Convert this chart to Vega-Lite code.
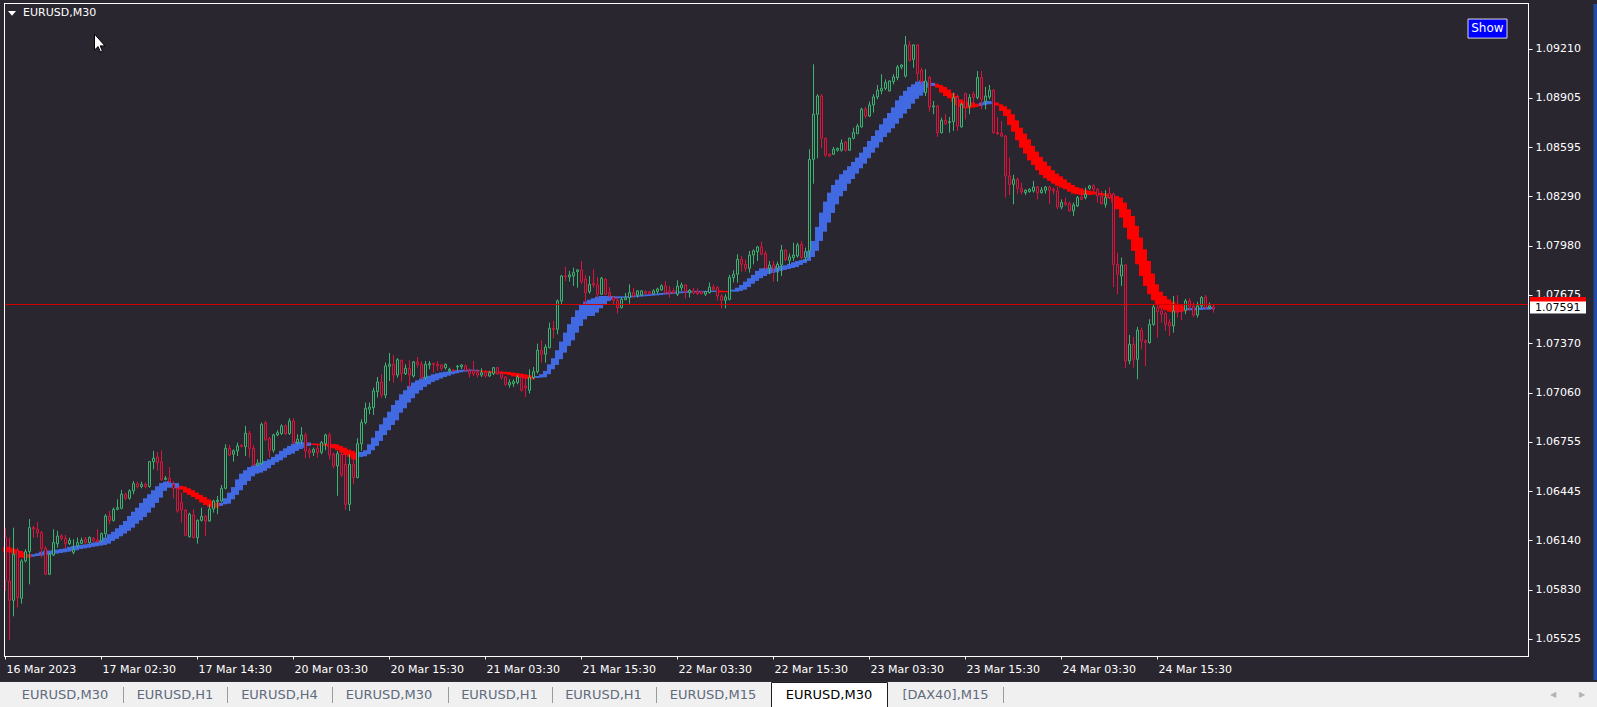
{
"$schema":"https://vega.github.io/schema/vega-lite/v6.json",
"background":"#2a2630",
"padding":{"left":0,"top":2,"right":0,"bottom":0},
"spacing":0,
"config":{"view":{"stroke":null},"font":"DejaVu Sans","scale":{"continuousPadding":0}},
"datasets":{
"bars":[
{"i":0,"o":1.0616,"h":1.06218,"l":1.05823,"c":1.05885,"t":1.06098,"b":1.06068,"d":"d"},
{"i":1,"o":1.05885,"h":1.06156,"l":1.05514,"c":1.05764,"t":1.06098,"b":1.06064,"d":"d"},
{"i":2,"o":1.05764,"h":1.06218,"l":1.05664,"c":1.06052,"t":1.06089,"b":1.06056,"d":"d"},
{"i":3,"o":1.06073,"h":1.06093,"l":1.05718,"c":1.05781,"t":1.06081,"b":1.06048,"d":"d"},
{"i":4,"o":1.05777,"h":1.06021,"l":1.05743,"c":1.0601,"t":1.06073,"b":1.06031,"d":"d"},
{"i":5,"o":1.0601,"h":1.06083,"l":1.06,"c":1.06068,"t":1.06064,"b":1.06027,"d":"d"},
{"i":6,"o":1.06068,"h":1.06272,"l":1.05864,"c":1.06218,"t":1.06052,"b":1.06031,"d":"d"},
{"i":7,"o":1.06218,"h":1.06229,"l":1.06156,"c":1.0621,"t":1.06052,"b":1.06037,"d":"u"},
{"i":8,"o":1.06208,"h":1.06254,"l":1.06156,"c":1.06187,"t":1.06058,"b":1.06041,"d":"u"},
{"i":9,"o":1.06187,"h":1.06198,"l":1.06031,"c":1.06089,"t":1.06068,"b":1.06043,"d":"u"},
{"i":10,"o":1.06089,"h":1.06104,"l":1.05922,"c":1.05927,"t":1.06073,"b":1.06045,"d":"u"},
{"i":11,"o":1.05927,"h":1.06062,"l":1.05922,"c":1.06052,"t":1.06075,"b":1.06048,"d":"u"},
{"i":12,"o":1.06048,"h":1.06208,"l":1.06041,"c":1.06125,"t":1.06077,"b":1.06052,"d":"u"},
{"i":13,"o":1.06118,"h":1.06198,"l":1.06093,"c":1.06166,"t":1.06081,"b":1.06056,"d":"u"},
{"i":14,"o":1.06166,"h":1.06177,"l":1.06139,"c":1.0615,"t":1.06085,"b":1.0606,"d":"u"},
{"i":15,"o":1.0615,"h":1.06173,"l":1.06089,"c":1.06118,"t":1.06089,"b":1.06064,"d":"u"},
{"i":16,"o":1.06118,"h":1.06156,"l":1.0611,"c":1.06139,"t":1.06098,"b":1.06068,"d":"u"},
{"i":17,"o":1.06064,"h":1.06145,"l":1.06052,"c":1.06081,"t":1.06104,"b":1.06073,"d":"u"},
{"i":18,"o":1.06104,"h":1.06156,"l":1.06093,"c":1.06125,"t":1.06106,"b":1.06077,"d":"u"},
{"i":19,"o":1.0612,"h":1.06156,"l":1.06114,"c":1.06139,"t":1.0611,"b":1.06085,"d":"u"},
{"i":20,"o":1.06145,"h":1.0616,"l":1.06114,"c":1.06125,"t":1.06114,"b":1.06089,"d":"u"},
{"i":21,"o":1.06125,"h":1.06164,"l":1.06118,"c":1.06156,"t":1.06118,"b":1.06093,"d":"u"},
{"i":22,"o":1.06152,"h":1.0616,"l":1.06125,"c":1.06135,"t":1.06125,"b":1.06098,"d":"u"},
{"i":23,"o":1.06141,"h":1.06208,"l":1.06125,"c":1.06131,"t":1.06131,"b":1.06102,"d":"u"},
{"i":24,"o":1.06135,"h":1.06187,"l":1.06131,"c":1.06181,"t":1.06139,"b":1.06106,"d":"u"},
{"i":25,"o":1.06181,"h":1.06302,"l":1.06156,"c":1.06291,"t":1.06156,"b":1.0611,"d":"u"},
{"i":26,"o":1.06289,"h":1.06323,"l":1.06239,"c":1.06264,"t":1.06177,"b":1.06118,"d":"u"},
{"i":27,"o":1.06264,"h":1.06343,"l":1.06256,"c":1.06333,"t":1.06193,"b":1.06135,"d":"u"},
{"i":28,"o":1.06333,"h":1.06395,"l":1.06327,"c":1.06343,"t":1.06214,"b":1.06148,"d":"u"},
{"i":29,"o":1.06339,"h":1.06454,"l":1.06333,"c":1.06427,"t":1.06235,"b":1.06164,"d":"u"},
{"i":30,"o":1.06427,"h":1.06437,"l":1.06389,"c":1.06402,"t":1.0626,"b":1.06181,"d":"u"},
{"i":31,"o":1.06402,"h":1.06458,"l":1.06393,"c":1.06448,"t":1.06291,"b":1.06198,"d":"u"},
{"i":32,"o":1.06448,"h":1.0651,"l":1.06427,"c":1.06493,"t":1.06318,"b":1.06218,"d":"u"},
{"i":33,"o":1.06493,"h":1.06506,"l":1.06464,"c":1.06475,"t":1.06343,"b":1.06243,"d":"u"},
{"i":34,"o":1.06475,"h":1.06506,"l":1.06464,"c":1.06489,"t":1.06373,"b":1.06264,"d":"u"},
{"i":35,"o":1.06489,"h":1.065,"l":1.06464,"c":1.06475,"t":1.06402,"b":1.06285,"d":"u"},
{"i":36,"o":1.06475,"h":1.06635,"l":1.06468,"c":1.06631,"t":1.06427,"b":1.06312,"d":"u"},
{"i":37,"o":1.06631,"h":1.06698,"l":1.06583,"c":1.06652,"t":1.06452,"b":1.06343,"d":"u"},
{"i":38,"o":1.0666,"h":1.06691,"l":1.06573,"c":1.06625,"t":1.06477,"b":1.06373,"d":"u"},
{"i":39,"o":1.06629,"h":1.06702,"l":1.0651,"c":1.0652,"t":1.06497,"b":1.06406,"d":"u"},
{"i":40,"o":1.0652,"h":1.06541,"l":1.06514,"c":1.06527,"t":1.06506,"b":1.06448,"d":"u"},
{"i":41,"o":1.06527,"h":1.06597,"l":1.06497,"c":1.06506,"t":1.0651,"b":1.06468,"d":"u"},
{"i":42,"o":1.06489,"h":1.0651,"l":1.06402,"c":1.06464,"t":1.06497,"b":1.06468,"d":"u"},
{"i":43,"o":1.06464,"h":1.06468,"l":1.06312,"c":1.06323,"t":1.06497,"b":1.06464,"d":"u"},
{"i":44,"o":1.06375,"h":1.06437,"l":1.0625,"c":1.06329,"t":1.06479,"b":1.06456,"d":"d"},
{"i":45,"o":1.06327,"h":1.06333,"l":1.06166,"c":1.0617,"t":1.06475,"b":1.06437,"d":"d"},
{"i":46,"o":1.06162,"h":1.06312,"l":1.06156,"c":1.06302,"t":1.06464,"b":1.06423,"d":"d"},
{"i":47,"o":1.06298,"h":1.06333,"l":1.06152,"c":1.06156,"t":1.06452,"b":1.0641,"d":"d"},
{"i":48,"o":1.06156,"h":1.0627,"l":1.06118,"c":1.06264,"t":1.06437,"b":1.06395,"d":"d"},
{"i":49,"o":1.06264,"h":1.06343,"l":1.06256,"c":1.06289,"t":1.06423,"b":1.06375,"d":"d"},
{"i":50,"o":1.06289,"h":1.06298,"l":1.06166,"c":1.0626,"t":1.0641,"b":1.0636,"d":"d"},
{"i":51,"o":1.0626,"h":1.06364,"l":1.06256,"c":1.06335,"t":1.06395,"b":1.06347,"d":"d"},
{"i":52,"o":1.06335,"h":1.06393,"l":1.06312,"c":1.06385,"t":1.06385,"b":1.06343,"d":"d"},
{"i":53,"o":1.06381,"h":1.06416,"l":1.06302,"c":1.06389,"t":1.06375,"b":1.06343,"d":"d"},
{"i":54,"o":1.06385,"h":1.06485,"l":1.06375,"c":1.06464,"t":1.06373,"b":1.06354,"d":"u"},
{"i":55,"o":1.06464,"h":1.06739,"l":1.06458,"c":1.06714,"t":1.06402,"b":1.06364,"d":"u"},
{"i":56,"o":1.06714,"h":1.06735,"l":1.06664,"c":1.06673,"t":1.06437,"b":1.06368,"d":"u"},
{"i":57,"o":1.06677,"h":1.06708,"l":1.06631,"c":1.06698,"t":1.06472,"b":1.06395,"d":"u"},
{"i":58,"o":1.06698,"h":1.0675,"l":1.06666,"c":1.06729,"t":1.0652,"b":1.06423,"d":"u"},
{"i":59,"o":1.06733,"h":1.06739,"l":1.06718,"c":1.06727,"t":1.06556,"b":1.06452,"d":"u"},
{"i":60,"o":1.06725,"h":1.06854,"l":1.06666,"c":1.06808,"t":1.06577,"b":1.06485,"d":"u"},
{"i":61,"o":1.06808,"h":1.06823,"l":1.06656,"c":1.06714,"t":1.06597,"b":1.0651,"d":"u"},
{"i":62,"o":1.06714,"h":1.06735,"l":1.06604,"c":1.0661,"t":1.06606,"b":1.06539,"d":"u"},
{"i":63,"o":1.0661,"h":1.06645,"l":1.06602,"c":1.06622,"t":1.06614,"b":1.06556,"d":"u"},
{"i":64,"o":1.06618,"h":1.06875,"l":1.0661,"c":1.06864,"t":1.06625,"b":1.06562,"d":"u"},
{"i":65,"o":1.06873,"h":1.06885,"l":1.0676,"c":1.06768,"t":1.06635,"b":1.06573,"d":"u"},
{"i":66,"o":1.06775,"h":1.06785,"l":1.06656,"c":1.06702,"t":1.06645,"b":1.06589,"d":"u"},
{"i":67,"o":1.06702,"h":1.06806,"l":1.06687,"c":1.06798,"t":1.0666,"b":1.0661,"d":"u"},
{"i":68,"o":1.06798,"h":1.06827,"l":1.06789,"c":1.06812,"t":1.06677,"b":1.06627,"d":"u"},
{"i":69,"o":1.06806,"h":1.06864,"l":1.06798,"c":1.06854,"t":1.06698,"b":1.06639,"d":"u"},
{"i":70,"o":1.06854,"h":1.06864,"l":1.06798,"c":1.06806,"t":1.06714,"b":1.06656,"d":"u"},
{"i":71,"o":1.06806,"h":1.06902,"l":1.06798,"c":1.06885,"t":1.06729,"b":1.06673,"d":"u"},
{"i":72,"o":1.06885,"h":1.06902,"l":1.06743,"c":1.0675,"t":1.06743,"b":1.06681,"d":"u"},
{"i":73,"o":1.0675,"h":1.06802,"l":1.06739,"c":1.06771,"t":1.06756,"b":1.06698,"d":"u"},
{"i":74,"o":1.06764,"h":1.06847,"l":1.06739,"c":1.06797,"t":1.06756,"b":1.0671,"d":"u"},
{"i":75,"o":1.06797,"h":1.06812,"l":1.06652,"c":1.06698,"t":1.06752,"b":1.06718,"d":"u"},
{"i":76,"o":1.06702,"h":1.06718,"l":1.06652,"c":1.06685,"t":1.0675,"b":1.06729,"d":"u"},
{"i":77,"o":1.06689,"h":1.06718,"l":1.06666,"c":1.06706,"t":1.06745,"b":1.06735,"d":"d"},
{"i":78,"o":1.06714,"h":1.06739,"l":1.06656,"c":1.06689,"t":1.06743,"b":1.06733,"d":"d"},
{"i":79,"o":1.06689,"h":1.0676,"l":1.06677,"c":1.0675,"t":1.06743,"b":1.06731,"d":"d"},
{"i":80,"o":1.06743,"h":1.06806,"l":1.06702,"c":1.06797,"t":1.06743,"b":1.06729,"d":"d"},
{"i":81,"o":1.06797,"h":1.06812,"l":1.06645,"c":1.06672,"t":1.06743,"b":1.06723,"d":"d"},
{"i":82,"o":1.06677,"h":1.06687,"l":1.06589,"c":1.06604,"t":1.06741,"b":1.06714,"d":"d"},
{"i":83,"o":1.06604,"h":1.06698,"l":1.06417,"c":1.06681,"t":1.06739,"b":1.06702,"d":"d"},
{"i":84,"o":1.06677,"h":1.06698,"l":1.06535,"c":1.06548,"t":1.06729,"b":1.06687,"d":"d"},
{"i":85,"o":1.06614,"h":1.06677,"l":1.06329,"c":1.06364,"t":1.06718,"b":1.06672,"d":"d"},
{"i":86,"o":1.06364,"h":1.06677,"l":1.06322,"c":1.06614,"t":1.06706,"b":1.0666,"d":"d"},
{"i":87,"o":1.06614,"h":1.06677,"l":1.0649,"c":1.06531,"t":1.06698,"b":1.06645,"d":"d"},
{"i":88,"o":1.06531,"h":1.06777,"l":1.06527,"c":1.06743,"t":1.06687,"b":1.06639,"d":"d"},
{"i":89,"o":1.06743,"h":1.06895,"l":1.06698,"c":1.06875,"t":1.06691,"b":1.0666,"d":"u"},
{"i":90,"o":1.06875,"h":1.07,"l":1.06864,"c":1.06964,"t":1.06702,"b":1.06664,"d":"u"},
{"i":91,"o":1.06958,"h":1.07,"l":1.06927,"c":1.06972,"t":1.06739,"b":1.06677,"d":"u"},
{"i":92,"o":1.06968,"h":1.07093,"l":1.06922,"c":1.07073,"t":1.06781,"b":1.06702,"d":"u"},
{"i":93,"o":1.07068,"h":1.0716,"l":1.07031,"c":1.07129,"t":1.06823,"b":1.06729,"d":"u"},
{"i":94,"o":1.07129,"h":1.07177,"l":1.07031,"c":1.07047,"t":1.06864,"b":1.0676,"d":"u"},
{"i":95,"o":1.07047,"h":1.0725,"l":1.07027,"c":1.07229,"t":1.06906,"b":1.06797,"d":"u"},
{"i":96,"o":1.07227,"h":1.0731,"l":1.07135,"c":1.07239,"t":1.06943,"b":1.06827,"d":"u"},
{"i":97,"o":1.07239,"h":1.07298,"l":1.07125,"c":1.07172,"t":1.06985,"b":1.0686,"d":"u"},
{"i":98,"o":1.07172,"h":1.07277,"l":1.07156,"c":1.07268,"t":1.07014,"b":1.06889,"d":"u"},
{"i":99,"o":1.07264,"h":1.07268,"l":1.07131,"c":1.07181,"t":1.07052,"b":1.06937,"d":"u"},
{"i":100,"o":1.07181,"h":1.07239,"l":1.07172,"c":1.07214,"t":1.07077,"b":1.06964,"d":"u"},
{"i":101,"o":1.07214,"h":1.07264,"l":1.07093,"c":1.07172,"t":1.07104,"b":1.07,"d":"u"},
{"i":102,"o":1.07166,"h":1.0726,"l":1.07156,"c":1.07254,"t":1.07125,"b":1.07027,"d":"u"},
{"i":103,"o":1.07254,"h":1.07285,"l":1.07218,"c":1.07239,"t":1.07139,"b":1.07056,"d":"u"},
{"i":104,"o":1.07239,"h":1.0726,"l":1.07145,"c":1.07156,"t":1.0715,"b":1.07077,"d":"u"},
{"i":105,"o":1.07156,"h":1.0726,"l":1.07145,"c":1.07239,"t":1.0716,"b":1.07098,"d":"u"},
{"i":106,"o":1.07235,"h":1.0726,"l":1.07208,"c":1.07243,"t":1.07168,"b":1.07114,"d":"u"},
{"i":107,"o":1.07243,"h":1.0725,"l":1.07187,"c":1.07239,"t":1.07177,"b":1.07129,"d":"u"},
{"i":108,"o":1.07239,"h":1.0726,"l":1.07198,"c":1.07229,"t":1.07183,"b":1.07139,"d":"u"},
{"i":109,"o":1.07235,"h":1.07239,"l":1.07198,"c":1.07214,"t":1.07189,"b":1.0715,"d":"u"},
{"i":110,"o":1.07218,"h":1.07243,"l":1.07206,"c":1.07239,"t":1.07193,"b":1.0716,"d":"u"},
{"i":111,"o":1.07198,"h":1.07218,"l":1.07187,"c":1.07208,"t":1.07195,"b":1.07168,"d":"u"},
{"i":112,"o":1.07204,"h":1.0721,"l":1.07193,"c":1.07198,"t":1.07198,"b":1.07177,"d":"u"},
{"i":113,"o":1.07223,"h":1.07235,"l":1.07198,"c":1.07227,"t":1.07202,"b":1.07183,"d":"u"},
{"i":114,"o":1.07223,"h":1.07239,"l":1.07208,"c":1.07235,"t":1.07204,"b":1.07189,"d":"u"},
{"i":115,"o":1.07229,"h":1.07239,"l":1.07198,"c":1.07202,"t":1.07206,"b":1.07193,"d":"u"},
{"i":116,"o":1.07198,"h":1.07214,"l":1.07156,"c":1.07181,"t":1.07206,"b":1.07195,"d":"u"},
{"i":117,"o":1.07198,"h":1.0726,"l":1.07166,"c":1.07181,"t":1.07206,"b":1.07198,"d":"u"},
{"i":118,"o":1.07187,"h":1.07208,"l":1.07156,"c":1.07172,"t":1.07204,"b":1.07195,"d":"u"},
{"i":119,"o":1.07172,"h":1.07214,"l":1.0716,"c":1.07187,"t":1.07202,"b":1.07193,"d":"d"},
{"i":120,"o":1.07187,"h":1.07202,"l":1.07156,"c":1.07166,"t":1.07198,"b":1.07189,"d":"d"},
{"i":121,"o":1.07166,"h":1.07198,"l":1.0716,"c":1.07187,"t":1.07198,"b":1.07187,"d":"d"},
{"i":122,"o":1.07181,"h":1.07223,"l":1.07172,"c":1.07218,"t":1.07195,"b":1.07185,"d":"d"},
{"i":123,"o":1.07218,"h":1.07223,"l":1.07172,"c":1.07181,"t":1.07195,"b":1.07183,"d":"d"},
{"i":124,"o":1.07181,"h":1.07198,"l":1.07145,"c":1.07156,"t":1.07193,"b":1.07181,"d":"d"},
{"i":125,"o":1.0716,"h":1.07166,"l":1.07104,"c":1.07114,"t":1.07193,"b":1.07177,"d":"d"},
{"i":126,"o":1.0711,"h":1.07145,"l":1.07093,"c":1.07125,"t":1.07191,"b":1.07172,"d":"d"},
{"i":127,"o":1.07118,"h":1.07145,"l":1.07098,"c":1.07131,"t":1.07187,"b":1.07164,"d":"d"},
{"i":128,"o":1.07125,"h":1.07172,"l":1.07114,"c":1.0716,"t":1.07185,"b":1.0716,"d":"d"},
{"i":129,"o":1.0716,"h":1.07172,"l":1.07068,"c":1.07077,"t":1.07181,"b":1.07154,"d":"d"},
{"i":130,"o":1.07104,"h":1.0716,"l":1.07035,"c":1.07093,"t":1.07177,"b":1.0715,"d":"d"},
{"i":131,"o":1.07077,"h":1.07208,"l":1.07056,"c":1.07156,"t":1.07172,"b":1.07145,"d":"d"},
{"i":132,"o":1.07156,"h":1.07223,"l":1.07145,"c":1.07193,"t":1.07166,"b":1.07145,"d":"d"},
{"i":133,"o":1.07193,"h":1.07368,"l":1.07181,"c":1.07327,"t":1.07166,"b":1.07154,"d":"u"},
{"i":134,"o":1.07327,"h":1.07389,"l":1.0725,"c":1.07302,"t":1.07177,"b":1.07156,"d":"u"},
{"i":135,"o":1.07302,"h":1.07364,"l":1.0725,"c":1.07347,"t":1.07198,"b":1.07158,"d":"u"},
{"i":136,"o":1.07343,"h":1.075,"l":1.07339,"c":1.07464,"t":1.07239,"b":1.07177,"d":"u"},
{"i":137,"o":1.07464,"h":1.0751,"l":1.07402,"c":1.07458,"t":1.07277,"b":1.07208,"d":"u"},
{"i":138,"o":1.07458,"h":1.07645,"l":1.07427,"c":1.07635,"t":1.07327,"b":1.07235,"d":"u"},
{"i":139,"o":1.07635,"h":1.07798,"l":1.07614,"c":1.07791,"t":1.07381,"b":1.07271,"d":"u"},
{"i":140,"o":1.07791,"h":1.07848,"l":1.0776,"c":1.07785,"t":1.07437,"b":1.07312,"d":"u"},
{"i":141,"o":1.07785,"h":1.07823,"l":1.07756,"c":1.07798,"t":1.0749,"b":1.07354,"d":"u"},
{"i":142,"o":1.07791,"h":1.07843,"l":1.07729,"c":1.07812,"t":1.07535,"b":1.07389,"d":"u"},
{"i":143,"o":1.07818,"h":1.07833,"l":1.07718,"c":1.07829,"t":1.07577,"b":1.07437,"d":"u"},
{"i":144,"o":1.07829,"h":1.07885,"l":1.07743,"c":1.07756,"t":1.0761,"b":1.07479,"d":"u"},
{"i":145,"o":1.07771,"h":1.07798,"l":1.07614,"c":1.07687,"t":1.07631,"b":1.0752,"d":"u"},
{"i":146,"o":1.07693,"h":1.07791,"l":1.07681,"c":1.07739,"t":1.07643,"b":1.07541,"d":"u"},
{"i":147,"o":1.07745,"h":1.07833,"l":1.07718,"c":1.07735,"t":1.07652,"b":1.07541,"d":"u"},
{"i":148,"o":1.07735,"h":1.07785,"l":1.07656,"c":1.07677,"t":1.07662,"b":1.07562,"d":"u"},
{"i":149,"o":1.07677,"h":1.07785,"l":1.07672,"c":1.07777,"t":1.07666,"b":1.07589,"d":"u"},
{"i":150,"o":1.0777,"h":1.07777,"l":1.07672,"c":1.07677,"t":1.07666,"b":1.07614,"d":"u"},
{"i":151,"o":1.07687,"h":1.07722,"l":1.07656,"c":1.07666,"t":1.07666,"b":1.07635,"d":"u"},
{"i":152,"o":1.07656,"h":1.07666,"l":1.07614,"c":1.07639,"t":1.07666,"b":1.07643,"d":"u"},
{"i":153,"o":1.07639,"h":1.07656,"l":1.07556,"c":1.07593,"t":1.07664,"b":1.0765,"d":"u"},
{"i":154,"o":1.07593,"h":1.07656,"l":1.07589,"c":1.07645,"t":1.07664,"b":1.07652,"d":"u"},
{"i":155,"o":1.07643,"h":1.07685,"l":1.07639,"c":1.07656,"t":1.07664,"b":1.07654,"d":"u"},
{"i":156,"o":1.07656,"h":1.07739,"l":1.07618,"c":1.07687,"t":1.07666,"b":1.07656,"d":"u"},
{"i":157,"o":1.07687,"h":1.07718,"l":1.07656,"c":1.07666,"t":1.07668,"b":1.07658,"d":"u"},
{"i":158,"o":1.07672,"h":1.07702,"l":1.07656,"c":1.07698,"t":1.0767,"b":1.0766,"d":"u"},
{"i":159,"o":1.07672,"h":1.07702,"l":1.07666,"c":1.07698,"t":1.07672,"b":1.07662,"d":"u"},
{"i":160,"o":1.07693,"h":1.07702,"l":1.07677,"c":1.07681,"t":1.07675,"b":1.07664,"d":"u"},
{"i":161,"o":1.07691,"h":1.07698,"l":1.07677,"c":1.07681,"t":1.07677,"b":1.07666,"d":"u"},
{"i":162,"o":1.07681,"h":1.07708,"l":1.07677,"c":1.07698,"t":1.07679,"b":1.07668,"d":"u"},
{"i":163,"o":1.07693,"h":1.07718,"l":1.07677,"c":1.0771,"t":1.07681,"b":1.0767,"d":"u"},
{"i":164,"o":1.07704,"h":1.07739,"l":1.07698,"c":1.07729,"t":1.07685,"b":1.07672,"d":"u"},
{"i":165,"o":1.07729,"h":1.0776,"l":1.07677,"c":1.07687,"t":1.07687,"b":1.07675,"d":"u"},
{"i":166,"o":1.07698,"h":1.07729,"l":1.07656,"c":1.07685,"t":1.07689,"b":1.07677,"d":"u"},
{"i":167,"o":1.07698,"h":1.07714,"l":1.07681,"c":1.07687,"t":1.07691,"b":1.07679,"d":"u"},
{"i":168,"o":1.07677,"h":1.07764,"l":1.07666,"c":1.07727,"t":1.07693,"b":1.07681,"d":"u"},
{"i":169,"o":1.07718,"h":1.0775,"l":1.07698,"c":1.07735,"t":1.07695,"b":1.07683,"d":"u"},
{"i":170,"o":1.07735,"h":1.07739,"l":1.0765,"c":1.07693,"t":1.07695,"b":1.07685,"d":"u"},
{"i":171,"o":1.07687,"h":1.07708,"l":1.07656,"c":1.07702,"t":1.07698,"b":1.07687,"d":"u"},
{"i":172,"o":1.07698,"h":1.07718,"l":1.07677,"c":1.07685,"t":1.07698,"b":1.07687,"d":"u"},
{"i":173,"o":1.07693,"h":1.07714,"l":1.07672,"c":1.07681,"t":1.07698,"b":1.07689,"d":"u"},
{"i":174,"o":1.07693,"h":1.07698,"l":1.07677,"c":1.07681,"t":1.07698,"b":1.07689,"d":"u"},
{"i":175,"o":1.07677,"h":1.07698,"l":1.07666,"c":1.07693,"t":1.07698,"b":1.07689,"d":"u"},
{"i":176,"o":1.07687,"h":1.0775,"l":1.07681,"c":1.07722,"t":1.077,"b":1.07691,"d":"u"},
{"i":177,"o":1.07722,"h":1.07739,"l":1.07698,"c":1.07708,"t":1.077,"b":1.07691,"d":"u"},
{"i":178,"o":1.07718,"h":1.07729,"l":1.07639,"c":1.07666,"t":1.077,"b":1.07691,"d":"u"},
{"i":179,"o":1.07666,"h":1.07677,"l":1.07589,"c":1.07639,"t":1.077,"b":1.07689,"d":"d"},
{"i":180,"o":1.07639,"h":1.07677,"l":1.07589,"c":1.0766,"t":1.07698,"b":1.07689,"d":"d"},
{"i":181,"o":1.07645,"h":1.07798,"l":1.07639,"c":1.07781,"t":1.07698,"b":1.07689,"d":"d"},
{"i":182,"o":1.07781,"h":1.07827,"l":1.0775,"c":1.07802,"t":1.07706,"b":1.07693,"d":"u"},
{"i":183,"o":1.07802,"h":1.07927,"l":1.0775,"c":1.07895,"t":1.07718,"b":1.07693,"d":"u"},
{"i":184,"o":1.07895,"h":1.07916,"l":1.07818,"c":1.07864,"t":1.07735,"b":1.07698,"d":"u"},
{"i":185,"o":1.07864,"h":1.07895,"l":1.07818,"c":1.07839,"t":1.07756,"b":1.07706,"d":"u"},
{"i":186,"o":1.07839,"h":1.07948,"l":1.07812,"c":1.07922,"t":1.07777,"b":1.07722,"d":"u"},
{"i":187,"o":1.07922,"h":1.07958,"l":1.07864,"c":1.07948,"t":1.07798,"b":1.07743,"d":"u"},
{"i":188,"o":1.07943,"h":1.07979,"l":1.07885,"c":1.07973,"t":1.07823,"b":1.0776,"d":"u"},
{"i":189,"o":1.07973,"h":1.08006,"l":1.07922,"c":1.07927,"t":1.07839,"b":1.07777,"d":"u"},
{"i":190,"o":1.07931,"h":1.07948,"l":1.07833,"c":1.07839,"t":1.07841,"b":1.07791,"d":"u"},
{"i":191,"o":1.07839,"h":1.07885,"l":1.07802,"c":1.0786,"t":1.07843,"b":1.07804,"d":"u"},
{"i":192,"o":1.0786,"h":1.07885,"l":1.07756,"c":1.07839,"t":1.07847,"b":1.0781,"d":"u"},
{"i":193,"o":1.07839,"h":1.07881,"l":1.07756,"c":1.07864,"t":1.07852,"b":1.07814,"d":"u"},
{"i":194,"o":1.0786,"h":1.07985,"l":1.07791,"c":1.07952,"t":1.07854,"b":1.07823,"d":"u"},
{"i":195,"o":1.07952,"h":1.07958,"l":1.07885,"c":1.07893,"t":1.07858,"b":1.07829,"d":"u"},
{"i":196,"o":1.07889,"h":1.07931,"l":1.07864,"c":1.0791,"t":1.07866,"b":1.07835,"d":"u"},
{"i":197,"o":1.07906,"h":1.07999,"l":1.07885,"c":1.07922,"t":1.07877,"b":1.07841,"d":"u"},
{"i":198,"o":1.07916,"h":1.07999,"l":1.07906,"c":1.07985,"t":1.07885,"b":1.07847,"d":"u"},
{"i":199,"o":1.07989,"h":1.0801,"l":1.07895,"c":1.07906,"t":1.07891,"b":1.0786,"d":"u"},
{"i":200,"o":1.07906,"h":1.07968,"l":1.07885,"c":1.07943,"t":1.07897,"b":1.07872,"d":"u"},
{"i":201,"o":1.07948,"h":1.08583,"l":1.07906,"c":1.0852,"t":1.07948,"b":1.07885,"d":"u"},
{"i":202,"o":1.0852,"h":1.09114,"l":1.08368,"c":1.08802,"t":1.0801,"b":1.0791,"d":"u"},
{"i":203,"o":1.08802,"h":1.08927,"l":1.08527,"c":1.08916,"t":1.08098,"b":1.07948,"d":"u"},
{"i":204,"o":1.08916,"h":1.08927,"l":1.08589,"c":1.08652,"t":1.08187,"b":1.0801,"d":"u"},
{"i":205,"o":1.08652,"h":1.08656,"l":1.08535,"c":1.08547,"t":1.08256,"b":1.08068,"d":"u"},
{"i":206,"o":1.08552,"h":1.08556,"l":1.08535,"c":1.08541,"t":1.08312,"b":1.08125,"d":"u"},
{"i":207,"o":1.08552,"h":1.08598,"l":1.08547,"c":1.08583,"t":1.0836,"b":1.08185,"d":"u"},
{"i":208,"o":1.08577,"h":1.08593,"l":1.08568,"c":1.08589,"t":1.08393,"b":1.08239,"d":"u"},
{"i":209,"o":1.08577,"h":1.08645,"l":1.08568,"c":1.08622,"t":1.08427,"b":1.08289,"d":"u"},
{"i":210,"o":1.08627,"h":1.08635,"l":1.08568,"c":1.08577,"t":1.08452,"b":1.08323,"d":"u"},
{"i":211,"o":1.08577,"h":1.08656,"l":1.08573,"c":1.08652,"t":1.08477,"b":1.08368,"d":"u"},
{"i":212,"o":1.08652,"h":1.08718,"l":1.08645,"c":1.08687,"t":1.08504,"b":1.08397,"d":"u"},
{"i":213,"o":1.08681,"h":1.08743,"l":1.08677,"c":1.08729,"t":1.08531,"b":1.08431,"d":"u"},
{"i":214,"o":1.08723,"h":1.08843,"l":1.08718,"c":1.08833,"t":1.08562,"b":1.08464,"d":"u"},
{"i":215,"o":1.08833,"h":1.08848,"l":1.08777,"c":1.08791,"t":1.08598,"b":1.08493,"d":"u"},
{"i":216,"o":1.08791,"h":1.08881,"l":1.08785,"c":1.0886,"t":1.08635,"b":1.08527,"d":"u"},
{"i":217,"o":1.0886,"h":1.08927,"l":1.08812,"c":1.0891,"t":1.08666,"b":1.08562,"d":"u"},
{"i":218,"o":1.0891,"h":1.08985,"l":1.08895,"c":1.08952,"t":1.08702,"b":1.08593,"d":"u"},
{"i":219,"o":1.08948,"h":1.09052,"l":1.08927,"c":1.08964,"t":1.08739,"b":1.08627,"d":"u"},
{"i":220,"o":1.08964,"h":1.0902,"l":1.08952,"c":1.09,"t":1.08777,"b":1.0866,"d":"u"},
{"i":221,"o":1.08948,"h":1.09014,"l":1.08943,"c":1.0901,"t":1.0881,"b":1.08687,"d":"u"},
{"i":222,"o":1.09006,"h":1.09052,"l":1.08989,"c":1.09035,"t":1.08845,"b":1.08714,"d":"u"},
{"i":223,"o":1.09031,"h":1.0911,"l":1.09014,"c":1.09097,"t":1.08889,"b":1.08743,"d":"u"},
{"i":224,"o":1.09097,"h":1.09114,"l":1.09083,"c":1.0911,"t":1.08918,"b":1.08777,"d":"u"},
{"i":225,"o":1.09041,"h":1.09291,"l":1.09031,"c":1.09235,"t":1.08948,"b":1.08806,"d":"u"},
{"i":226,"o":1.09235,"h":1.0926,"l":1.09131,"c":1.09139,"t":1.08973,"b":1.08835,"d":"u"},
{"i":227,"o":1.09145,"h":1.09239,"l":1.09093,"c":1.09235,"t":1.08989,"b":1.08868,"d":"u"},
{"i":228,"o":1.09235,"h":1.09239,"l":1.0901,"c":1.09056,"t":1.09006,"b":1.08898,"d":"u"},
{"i":229,"o":1.09077,"h":1.09093,"l":1.08989,"c":1.09006,"t":1.09014,"b":1.08918,"d":"u"},
{"i":230,"o":1.08937,"h":1.09083,"l":1.08916,"c":1.0901,"t":1.0901,"b":1.0894,"d":"u"},
{"i":231,"o":1.09031,"h":1.09041,"l":1.08818,"c":1.08848,"t":1.09002,"b":1.08968,"d":"u"},
{"i":232,"o":1.08848,"h":1.08885,"l":1.08802,"c":1.08854,"t":1.08998,"b":1.08979,"d":"u"},
{"i":233,"o":1.08854,"h":1.0886,"l":1.0866,"c":1.08687,"t":1.08993,"b":1.08968,"d":"d"},
{"i":234,"o":1.08687,"h":1.08781,"l":1.08681,"c":1.08764,"t":1.08985,"b":1.08937,"d":"d"},
{"i":235,"o":1.08764,"h":1.08802,"l":1.08735,"c":1.08743,"t":1.08973,"b":1.08916,"d":"d"},
{"i":236,"o":1.0875,"h":1.08785,"l":1.08687,"c":1.08756,"t":1.08956,"b":1.08902,"d":"d"},
{"i":237,"o":1.08756,"h":1.08937,"l":1.08698,"c":1.08906,"t":1.08935,"b":1.08881,"d":"d"},
{"i":238,"o":1.08906,"h":1.08927,"l":1.08698,"c":1.08729,"t":1.08916,"b":1.0886,"d":"d"},
{"i":239,"o":1.08723,"h":1.08875,"l":1.08718,"c":1.08864,"t":1.08895,"b":1.08848,"d":"d"},
{"i":240,"o":1.08931,"h":1.08937,"l":1.0877,"c":1.08843,"t":1.08885,"b":1.08839,"d":"d"},
{"i":241,"o":1.08854,"h":1.08927,"l":1.08802,"c":1.08906,"t":1.08881,"b":1.08839,"d":"d"},
{"i":242,"o":1.08927,"h":1.08943,"l":1.08868,"c":1.08906,"t":1.08875,"b":1.08843,"d":"d"},
{"i":243,"o":1.08906,"h":1.09072,"l":1.08895,"c":1.09031,"t":1.08868,"b":1.08848,"d":"d"},
{"i":244,"o":1.09031,"h":1.09072,"l":1.08833,"c":1.08895,"t":1.08875,"b":1.08854,"d":"u"},
{"i":245,"o":1.08881,"h":1.08973,"l":1.08833,"c":1.08916,"t":1.08881,"b":1.0886,"d":"u"},
{"i":246,"o":1.0891,"h":1.08985,"l":1.08895,"c":1.08952,"t":1.08885,"b":1.08864,"d":"u"},
{"i":247,"o":1.08952,"h":1.08958,"l":1.08681,"c":1.08687,"t":1.08881,"b":1.08868,"d":"u"},
{"i":248,"o":1.08687,"h":1.08785,"l":1.08672,"c":1.08681,"t":1.08875,"b":1.08856,"d":"d"},
{"i":249,"o":1.08683,"h":1.0876,"l":1.0866,"c":1.08666,"t":1.08864,"b":1.08823,"d":"d"},
{"i":250,"o":1.08666,"h":1.08672,"l":1.08281,"c":1.08416,"t":1.08852,"b":1.08791,"d":"d"},
{"i":251,"o":1.08416,"h":1.08531,"l":1.08297,"c":1.08364,"t":1.08833,"b":1.08735,"d":"d"},
{"i":252,"o":1.08364,"h":1.08423,"l":1.08239,"c":1.08395,"t":1.08802,"b":1.08693,"d":"d"},
{"i":253,"o":1.08395,"h":1.08406,"l":1.08306,"c":1.08339,"t":1.08764,"b":1.08639,"d":"d"},
{"i":254,"o":1.08339,"h":1.08375,"l":1.08302,"c":1.08318,"t":1.08718,"b":1.08593,"d":"d"},
{"i":255,"o":1.08312,"h":1.08333,"l":1.08297,"c":1.08327,"t":1.08681,"b":1.08556,"d":"d"},
{"i":256,"o":1.08318,"h":1.08339,"l":1.08312,"c":1.08333,"t":1.08645,"b":1.08514,"d":"d"},
{"i":257,"o":1.08323,"h":1.08385,"l":1.08312,"c":1.08347,"t":1.08604,"b":1.08485,"d":"d"},
{"i":258,"o":1.08347,"h":1.08354,"l":1.0827,"c":1.08312,"t":1.08568,"b":1.08452,"d":"d"},
{"i":259,"o":1.08312,"h":1.08347,"l":1.08306,"c":1.08329,"t":1.08535,"b":1.08423,"d":"d"},
{"i":260,"o":1.08327,"h":1.08354,"l":1.08306,"c":1.08347,"t":1.08506,"b":1.08402,"d":"d"},
{"i":261,"o":1.08347,"h":1.08354,"l":1.08243,"c":1.08327,"t":1.08479,"b":1.08385,"d":"d"},
{"i":262,"o":1.08333,"h":1.08343,"l":1.08302,"c":1.08323,"t":1.08452,"b":1.08368,"d":"d"},
{"i":263,"o":1.08323,"h":1.08347,"l":1.08208,"c":1.08222,"t":1.08431,"b":1.08354,"d":"d"},
{"i":264,"o":1.08222,"h":1.0827,"l":1.08208,"c":1.0825,"t":1.08414,"b":1.08343,"d":"d"},
{"i":265,"o":1.0825,"h":1.08281,"l":1.08229,"c":1.08239,"t":1.08395,"b":1.08333,"d":"d"},
{"i":266,"o":1.08243,"h":1.08256,"l":1.08193,"c":1.08198,"t":1.08375,"b":1.08318,"d":"d"},
{"i":267,"o":1.08198,"h":1.0825,"l":1.08166,"c":1.08235,"t":1.0836,"b":1.08306,"d":"d"},
{"i":268,"o":1.08229,"h":1.08291,"l":1.08222,"c":1.08281,"t":1.08347,"b":1.08302,"d":"d"},
{"i":269,"o":1.08285,"h":1.08323,"l":1.08264,"c":1.0827,"t":1.08339,"b":1.08297,"d":"d"},
{"i":270,"o":1.08281,"h":1.08343,"l":1.0827,"c":1.08302,"t":1.08331,"b":1.08297,"d":"d"},
{"i":271,"o":1.08339,"h":1.0836,"l":1.08331,"c":1.08354,"t":1.08325,"b":1.08297,"d":"d"},
{"i":272,"o":1.08354,"h":1.08364,"l":1.08323,"c":1.08333,"t":1.08321,"b":1.083,"d":"d"},
{"i":273,"o":1.08333,"h":1.08339,"l":1.0825,"c":1.08291,"t":1.08316,"b":1.083,"d":"d"},
{"i":274,"o":1.08291,"h":1.08323,"l":1.08239,"c":1.08243,"t":1.0831,"b":1.08297,"d":"d"},
{"i":275,"o":1.08239,"h":1.08327,"l":1.08218,"c":1.08281,"t":1.08308,"b":1.08289,"d":"d"},
{"i":276,"o":1.08306,"h":1.08347,"l":1.0827,"c":1.08281,"t":1.08304,"b":1.08277,"d":"d"},
{"i":277,"o":1.08302,"h":1.08312,"l":1.07722,"c":1.07864,"t":1.083,"b":1.0825,"d":"d"},
{"i":278,"o":1.07864,"h":1.07937,"l":1.07677,"c":1.07802,"t":1.08291,"b":1.08208,"d":"d"},
{"i":279,"o":1.07791,"h":1.07906,"l":1.07729,"c":1.0786,"t":1.08281,"b":1.08156,"d":"d"},
{"i":280,"o":1.0786,"h":1.07864,"l":1.07214,"c":1.0726,"t":1.0825,"b":1.08093,"d":"d"},
{"i":281,"o":1.0726,"h":1.07423,"l":1.07239,"c":1.07364,"t":1.08208,"b":1.0802,"d":"d"},
{"i":282,"o":1.07364,"h":1.0741,"l":1.07218,"c":1.0727,"t":1.08166,"b":1.07948,"d":"d"},
{"i":283,"o":1.0727,"h":1.07473,"l":1.07145,"c":1.07452,"t":1.08104,"b":1.07864,"d":"d"},
{"i":284,"o":1.07452,"h":1.07468,"l":1.07333,"c":1.07385,"t":1.08031,"b":1.07791,"d":"d"},
{"i":285,"o":1.07385,"h":1.07395,"l":1.07229,"c":1.07375,"t":1.07958,"b":1.07729,"d":"d"},
{"i":286,"o":1.07375,"h":1.07521,"l":1.07368,"c":1.07489,"t":1.07885,"b":1.07677,"d":"d"},
{"i":287,"o":1.07489,"h":1.07614,"l":1.07479,"c":1.07598,"t":1.07806,"b":1.07639,"d":"d"},
{"i":288,"o":1.07593,"h":1.07618,"l":1.07406,"c":1.07568,"t":1.07739,"b":1.0761,"d":"d"},
{"i":289,"o":1.07573,"h":1.07598,"l":1.075,"c":1.07552,"t":1.07693,"b":1.07589,"d":"d"},
{"i":290,"o":1.07556,"h":1.07568,"l":1.07448,"c":1.07489,"t":1.07666,"b":1.07577,"d":"d"},
{"i":291,"o":1.075,"h":1.07521,"l":1.07416,"c":1.07479,"t":1.07645,"b":1.07568,"d":"d"},
{"i":292,"o":1.07479,"h":1.07666,"l":1.07437,"c":1.07573,"t":1.0763,"b":1.07562,"d":"d"},
{"i":293,"o":1.07573,"h":1.07672,"l":1.07531,"c":1.07568,"t":1.07618,"b":1.07562,"d":"d"},
{"i":294,"o":1.07577,"h":1.07614,"l":1.07514,"c":1.07568,"t":1.0761,"b":1.07566,"d":"d"},
{"i":295,"o":1.07577,"h":1.07648,"l":1.07552,"c":1.07635,"t":1.07602,"b":1.0757,"d":"d"},
{"i":296,"o":1.07635,"h":1.07652,"l":1.07573,"c":1.07598,"t":1.07591,"b":1.07577,"d":"u"},
{"i":297,"o":1.07602,"h":1.07625,"l":1.07535,"c":1.07547,"t":1.07591,"b":1.07577,"d":"u"},
{"i":298,"o":1.07547,"h":1.0763,"l":1.07531,"c":1.07604,"t":1.07593,"b":1.07577,"d":"u"},
{"i":299,"o":1.07604,"h":1.07666,"l":1.07593,"c":1.07656,"t":1.07595,"b":1.07579,"d":"u"},
{"i":300,"o":1.0766,"h":1.07672,"l":1.07585,"c":1.07593,"t":1.07598,"b":1.07581,"d":"u"},
{"i":301,"o":1.07593,"h":1.07625,"l":1.07585,"c":1.07604,"t":1.07598,"b":1.07581,"d":"u"},
{"i":302,"o":1.07598,"h":1.07614,"l":1.07562,"c":1.07589,"t":1.07598,"b":1.07583,"d":"u"}
],
"tabs":[
{"k":"EURUSD,M30","x":65,"a":0},
{"k":"EURUSD,H1","x":175,"a":0},
{"k":"EURUSD,H4","x":279.5,"a":0},
{"k":"EURUSD,M30","x":389,"a":0},
{"k":"EURUSD,H1","x":499.5,"a":0},
{"k":"EURUSD,H1","x":603.5,"a":0},
{"k":"EURUSD,M15","x":713,"a":0},
{"k":"EURUSD,M30","x":829,"a":1},
{"k":"[DAX40],M15","x":945.5,"a":0}
],
"seps":[{"x":123.5},{"x":227.5},{"x":332.5},{"x":448.5},{"x":552.5},{"x":656.5},{"x":1003.5}]
},
"vconcat":[
{
"width":1523,"height":652,
"layer":[
{"data":{"values":[{}]},"mark":{"type":"rect","fill":"#2a2630"},
 "encoding":{"x":{"datum":-1.25,"type":"quantitative","scale":{"domain":[0,380.75],"nice":false,"zero":false,"padding":0},
   "axis":{"values":[0,24,48,72,96,120,144,168,192,216,240,264,288],"labelExpr":"['16 Mar 2023','17 Mar 02:30','17 Mar 14:30','20 Mar 03:30','20 Mar 15:30','21 Mar 03:30','21 Mar 15:30','22 Mar 03:30','22 Mar 15:30','23 Mar 03:30','23 Mar 15:30','24 Mar 03:30','24 Mar 15:30'][round(datum.value/24)]","title":null,"domain":false,"grid":false,"ticks":true,"tickColor":"#ffffff","tickSize":3,"tickWidth":1,"labelColor":"#ffffff","labelFont":"DejaVu Sans","labelFontSize":11,"labelAlign":"left","labelBaseline":"top","labelPadding":4,"labelOffset":1,"labelFlush":false,"labelOverlap":false,"labelBound":false}},
  "x2":{"datum":-0.25},
  "y":{"datum":1.05416,"type":"quantitative","scale":{"domain":[1.05416,1.09491],"nice":false,"zero":false,"padding":0},
   "axis":{"orient":"right","values":[1.05525,1.0583,1.0614,1.06445,1.06755,1.0706,1.0737,1.07675,1.0798,1.0829,1.08595,1.08905,1.0921],"format":".5f","title":null,"domain":false,"grid":false,"tickColor":"#ffffff","tickSize":4,"tickWidth":1,"labelColor":"#ffffff","labelFont":"DejaVu Sans","labelFontSize":11,"labelPadding":3,"labelOverlap":false,"labelBound":false,"labelFlush":false}},
  "y2":{"datum":1.09491}}},
{"data":{"name":"bars"},"mark":{"type":"bar","width":4},
 "encoding":{
  "x":{"field":"i","type":"quantitative","scale":{"domain":[0,380.75],"nice":false,"zero":false,"padding":0}},
  "y":{"field":"t","type":"quantitative","scale":{"domain":[1.05416,1.09491],"nice":false,"zero":false,"padding":0}},
  "y2":{"field":"b"},
  "color":{"field":"d","type":"nominal","scale":{"domain":["u","d"],"range":["#4169e1","#ff0000"]},"legend":null}
 }},
{"data":{"name":"bars"},"mark":{"type":"rule","xOffset":0.5,"strokeWidth":1},
 "encoding":{
  "x":{"field":"i","type":"quantitative","scale":{"domain":[0,380.75],"nice":false,"zero":false,"padding":0}},
  "y":{"field":"l","type":"quantitative","scale":{"domain":[1.05416,1.09491],"nice":false,"zero":false,"padding":0}},
  "y2":{"field":"h"},
  "color":{"condition":{"test":"datum.c >= datum.o","value":"#3cb371"},"value":"#dc143c"}
 }},
{"data":{"name":"bars"},"mark":{"type":"bar","width":2,"xOffset":0.5,"fill":"#2a2630","strokeWidth":1},
 "encoding":{
  "x":{"field":"i","type":"quantitative","scale":{"domain":[0,380.75],"nice":false,"zero":false,"padding":0}},
  "y":{"field":"o","type":"quantitative","scale":{"domain":[1.05416,1.09491],"nice":false,"zero":false,"padding":0}},
  "y2":{"field":"c"},
  "stroke":{"condition":{"test":"datum.c >= datum.o","value":"#3cb371"},"value":"#dc143c"}
 }},
{"data":{"values":[{}]},"mark":{"type":"rect","fill":"#ffffff"},
 "encoding":{"x":{"datum":-0.25,"type":"quantitative","scale":{"domain":[0,380.75],"nice":false,"zero":false,"padding":0}},"x2":{"datum":381},
 "y":{"datum":1.09491,"type":"quantitative","scale":{"domain":[1.05416,1.09491],"nice":false,"zero":false,"padding":0}},"y2":{"datum":1.094973}}},
{"data":{"values":[{}]},"mark":{"type":"rect","fill":"#ffffff"},
 "encoding":{"x":{"datum":-0.25,"type":"quantitative","scale":{"domain":[0,380.75],"nice":false,"zero":false,"padding":0}},"x2":{"datum":381},
 "y":{"datum":1.0540975,"type":"quantitative","scale":{"domain":[1.05416,1.09491],"nice":false,"zero":false,"padding":0}},"y2":{"datum":1.05416}}},
{"data":{"values":[{}]},"mark":{"type":"rect","fill":"#ffffff"},
 "encoding":{"x":{"datum":-0.25,"type":"quantitative","scale":{"domain":[0,380.75],"nice":false,"zero":false,"padding":0}},"x2":{"datum":0},
 "y":{"datum":1.0540975,"type":"quantitative","scale":{"domain":[1.05416,1.09491],"nice":false,"zero":false,"padding":0}},"y2":{"datum":1.094973}}},
{"data":{"values":[{}]},"mark":{"type":"rect","fill":"#ffffff"},
 "encoding":{"x":{"datum":380.75,"type":"quantitative","scale":{"domain":[0,380.75],"nice":false,"zero":false,"padding":0}},"x2":{"datum":381},
 "y":{"datum":1.0540975,"type":"quantitative","scale":{"domain":[1.05416,1.09491],"nice":false,"zero":false,"padding":0}},"y2":{"datum":1.094973}}},
{"data":{"values":[{}]},"mark":{"type":"rule","color":"#d40000","strokeWidth":1},
 "encoding":{"y":{"datum":1.07613,"type":"quantitative","scale":{"domain":[1.05416,1.09491],"nice":false,"zero":false,"padding":0}}}},
{"data":{"values":[{}]},"mark":{"type":"rect","fill":"#ff0000"},
 "encoding":{"x":{"datum":381.25,"type":"quantitative","scale":{"domain":[0,380.75],"nice":false,"zero":false,"padding":0}},"x2":{"datum":395.25},
 "y":{"datum":1.07566,"type":"quantitative","scale":{"domain":[1.05416,1.09491],"nice":false,"zero":false,"padding":0}},"y2":{"datum":1.0766}}},
{"data":{"values":[{}]},"mark":{"type":"rect","fill":"#ffffff"},
 "encoding":{"x":{"datum":381.25,"type":"quantitative","scale":{"domain":[0,380.75],"nice":false,"zero":false,"padding":0}},"x2":{"datum":395.25},
 "y":{"datum":1.07557,"type":"quantitative","scale":{"domain":[1.05416,1.09491],"nice":false,"zero":false,"padding":0}},"y2":{"datum":1.07632}}},
{"data":{"values":[{}]},"mark":{"type":"text","text":"1.07591","align":"left","baseline":"middle","color":"#000000","font":"DejaVu Sans","fontSize":11},
 "encoding":{"x":{"datum":382.5,"type":"quantitative","scale":{"domain":[0,380.75],"nice":false,"zero":false,"padding":0}},
 "y":{"datum":1.07594,"type":"quantitative","scale":{"domain":[1.05416,1.09491],"nice":false,"zero":false,"padding":0}}}},
{"data":{"values":[{}]},"mark":{"type":"point","shape":"M-1,-0.6L1,-0.6L0,0.6Z","size":64,"filled":true,"color":"#ffffff","opacity":1,"strokeWidth":0},
 "encoding":{"x":{"datum":1.75,"type":"quantitative","scale":{"domain":[0,380.75],"nice":false,"zero":false,"padding":0}},
 "y":{"datum":1.09432,"type":"quantitative","scale":{"domain":[1.05416,1.09491],"nice":false,"zero":false,"padding":0}}}},
{"data":{"values":[{}]},"mark":{"type":"text","text":"EURUSD,M30","align":"left","baseline":"middle","color":"#ffffff","font":"DejaVu Sans","fontSize":11},
 "encoding":{"x":{"datum":4.5,"type":"quantitative","scale":{"domain":[0,380.75],"nice":false,"zero":false,"padding":0}},
 "y":{"datum":1.09432,"type":"quantitative","scale":{"domain":[1.05416,1.09491],"nice":false,"zero":false,"padding":0}}}},
{"data":{"values":[{}]},"mark":{"type":"point","shape":"M0,0L0,1.6L0.36,1.25L0.6,1.8L0.8,1.72L0.57,1.18L1.05,1.18Z","size":400,"filled":true,"fill":"#ffffff","stroke":"#000000","strokeWidth":1,"opacity":1},
 "encoding":{"x":{"datum":22.375,"type":"quantitative","scale":{"domain":[0,380.75],"nice":false,"zero":false,"padding":0}},
 "y":{"datum":1.09303,"type":"quantitative","scale":{"domain":[1.05416,1.09491],"nice":false,"zero":false,"padding":0}}}},
{"data":{"values":[{}]},"mark":{"type":"rect","fill":"#0000ff","stroke":"#d8d8d8","strokeWidth":1},
 "encoding":{"x":{"datum":365.75,"type":"quantitative","scale":{"domain":[0,380.75],"nice":false,"zero":false,"padding":0}},"x2":{"datum":375.5},
 "y":{"datum":1.09278,"type":"quantitative","scale":{"domain":[1.05416,1.09491],"nice":false,"zero":false,"padding":0}},"y2":{"datum":1.09397}}},
{"data":{"values":[{}]},"mark":{"type":"text","text":"Show","align":"center","baseline":"middle","color":"#ffffff","font":"DejaVu Sans","fontSize":12},
 "encoding":{"x":{"datum":370.6,"type":"quantitative","scale":{"domain":[0,380.75],"nice":false,"zero":false,"padding":0}},
 "y":{"datum":1.09338,"type":"quantitative","scale":{"domain":[1.05416,1.09491],"nice":false,"zero":false,"padding":0}}}},
{"data":{"values":[{}]},"mark":{"type":"rect","fill":"#1f4aa8"},
 "encoding":{"x":{"datum":397.125,"type":"quantitative","scale":{"domain":[0,380.75],"nice":false,"zero":false,"padding":0}},"x2":{"datum":398},
 "y":{"datum":1.05266,"type":"quantitative","scale":{"domain":[1.05416,1.09491],"nice":false,"zero":false,"padding":0}},"y2":{"datum":1.09491}}}
]
},
{
"width":1592,"height":28,
"view":{"fill":"#f0f0f0","stroke":null},
"layer":[
{"data":{"values":[{}]},"mark":{"type":"rect","fill":"#f0f0f0"},
 "encoding":{"x":{"datum":0,"type":"quantitative","scale":{"domain":[5,1597],"nice":false,"zero":false,"padding":0},"axis":null},"x2":{"datum":1597},
 "y":{"datum":0,"type":"quantitative","scale":{"domain":[0,28],"nice":false,"zero":false,"reverse":true,"padding":0},"axis":null},"y2":{"datum":28}}},
{"data":{"values":[{}]},"mark":{"type":"rect","fill":"#303030"},
 "encoding":{"x":{"datum":0,"type":"quantitative","scale":{"domain":[5,1597],"nice":false,"zero":false,"padding":0},"axis":null},"x2":{"datum":1597},
 "y":{"datum":0,"type":"quantitative","scale":{"domain":[0,28],"nice":false,"zero":false,"reverse":true,"padding":0},"axis":null},"y2":{"datum":1}}},
{"data":{"values":[{}]},"mark":{"type":"rect","fill":"#ffffff","stroke":"#1e1e1e","strokeWidth":1},
 "encoding":{"x":{"datum":771.5,"type":"quantitative","scale":{"domain":[5,1597],"nice":false,"zero":false,"padding":0},"axis":null},"x2":{"datum":887.5},
 "y":{"datum":1.5,"type":"quantitative","scale":{"domain":[0,28],"nice":false,"zero":false,"reverse":true,"padding":0},"axis":null},"y2":{"datum":29}}},
{"data":{"name":"seps"},"mark":{"type":"rule","color":"#9a9a9a","strokeWidth":1},
 "encoding":{"x":{"field":"x","type":"quantitative","scale":{"domain":[5,1597],"nice":false,"zero":false,"padding":0},"axis":null},
 "y":{"datum":6,"type":"quantitative","scale":{"domain":[0,28],"nice":false,"zero":false,"reverse":true,"padding":0},"axis":null},"y2":{"datum":22}}},
{"data":{"name":"tabs"},"mark":{"type":"text","align":"center","baseline":"middle","font":"DejaVu Sans","fontSize":13},
 "encoding":{"x":{"field":"x","type":"quantitative","scale":{"domain":[5,1597],"nice":false,"zero":false,"padding":0},"axis":null},
 "y":{"datum":14,"type":"quantitative","scale":{"domain":[0,28],"nice":false,"zero":false,"reverse":true,"padding":0},"axis":null},
 "text":{"field":"k"},
 "color":{"condition":{"test":"datum.a == 1","value":"#000000"},"value":"#5f6b7d"}}},
{"data":{"values":[{"s":"◀","x":1553},{"s":"▶","x":1582}]},"mark":{"type":"text","align":"center","baseline":"middle","font":"DejaVu Sans","fontSize":8,"color":"#b4b4b4"},
 "encoding":{"x":{"field":"x","type":"quantitative","scale":{"domain":[5,1597],"nice":false,"zero":false,"padding":0},"axis":null},
 "y":{"datum":14,"type":"quantitative","scale":{"domain":[0,28],"nice":false,"zero":false,"reverse":true,"padding":0},"axis":null},
 "text":{"field":"s"}}}
]
}
]
}
